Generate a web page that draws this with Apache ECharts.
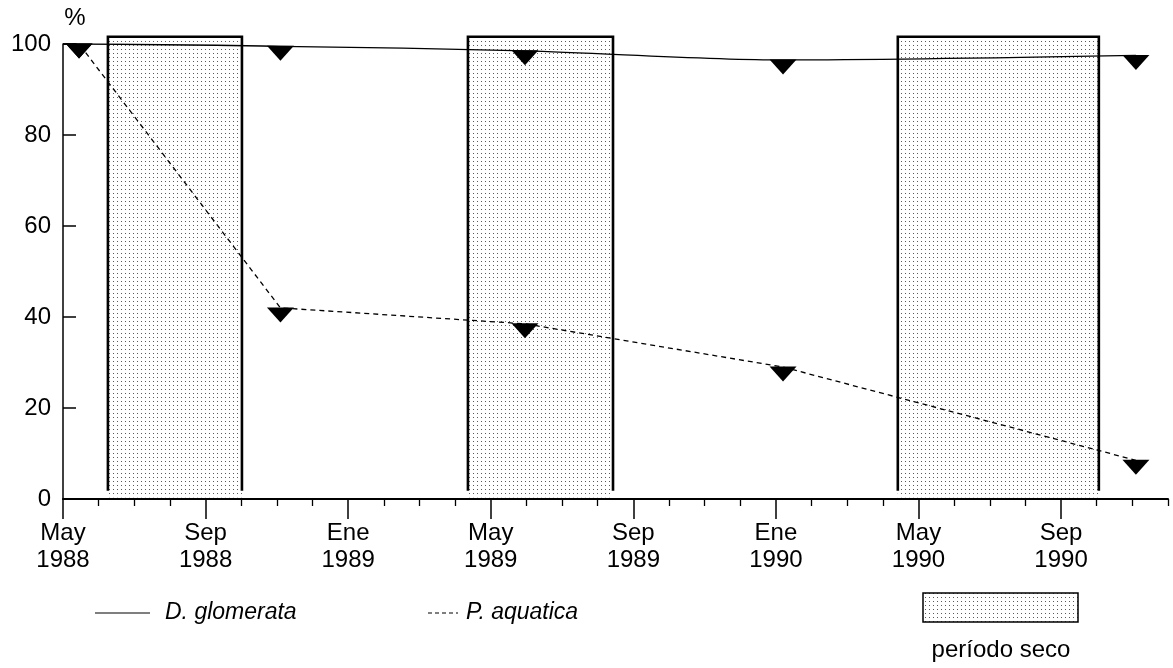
<!DOCTYPE html>
<html>
<head>
<meta charset="utf-8">
<script src="https://cdn.jsdelivr.net/npm/echarts@6/dist/echarts.min.js"></script>
<style>
  html, body { margin: 0; padding: 0; background: #fff; }
  #chart { width: 1173px; height: 668px; }
</style>
</head>
<body>
<div id="chart"></div>
<script>
// Months counted from May 1988 (0 = May 1988, 4 = Sep 1988, ...)
const tickMonths = [0, 4, 8, 12, 16, 20, 24, 28];
const tickLabels = ['May\n1988', 'Sep\n1988', 'Ene\n1989', 'May\n1989', 'Sep\n1989', 'Ene\n1990', 'May\n1990', 'Sep\n1990'];
const monthTicks = [1, 2, 3, 5, 6, 7, 9, 10, 11, 13, 14, 15, 17, 18, 19, 21, 22, 23, 25, 26, 27, 29, 30, 31];

// Sampling dates and survival (%)
const sampleMonths = [0.45, 6.1, 12.96, 20.2, 30.1];
const glomerata = [100, 99.5, 98.5, 96.5, 97.5];
const aquatica = [100, 42, 38.5, 29, 8.5];
const startMonth = 0;
const startValue = 100;

// Dry periods, [start month, end month]
const dryPeriods = [[1.26, 5.02], [11.36, 15.43], [23.42, 29.06]];

const FONT = 'Liberation Sans, Arial, Helvetica, sans-serif';
const DRY_TOP = 101.6;

// stippled fill for the dry periods
function stipple() {
  const c = document.createElement('canvas');
  c.width = 4; c.height = 4;
  const g = c.getContext('2d');
  g.fillStyle = '#ffffff';
  g.fillRect(0, 0, 4, 4);
  g.fillStyle = '#5a5a5a';
  g.fillRect(1, 1, 1, 1);
  return c;
}
const dotFill = { image: stipple(), repeat: 'repeat' };

function seriesData(values) {
  const pts = [{ value: [startMonth, startValue], symbol: 'none' }];
  sampleMonths.forEach((m, i) => pts.push([m, values[i]]));
  return pts;
}

// downward triangle hanging from the data point
const marker = 'path://M0,0L10,0L5,5.5Z';

const chart = echarts.init(document.getElementById('chart'), null, { renderer: 'canvas' });

chart.setOption({
  animation: false,
  backgroundColor: '#ffffff',
  grid: { left: 63, right: 5, top: 44, bottom: 169, containLabel: false },
  xAxis: [
    {
      type: 'value', min: 0, max: 31,
      axisLine: { show: true, onZero: false, lineStyle: { color: '#000', width: 2 } },
      axisTick: { show: true, customValues: tickMonths, length: 20, lineStyle: { color: '#000', width: 1.5 } },
      axisLabel: {
        show: true, customValues: tickMonths,
        formatter: v => tickLabels[tickMonths.indexOf(Math.round(v))] || '',
        fontFamily: FONT, fontSize: 24, lineHeight: 27, color: '#000', margin: 21
      },
      splitLine: { show: false }
    },
    {
      type: 'value', min: 0, max: 31, position: 'bottom', offset: 5,
      axisLine: { show: false },
      axisTick: { show: true, customValues: monthTicks, length: 7, lineStyle: { color: '#000', width: 1.3 } },
      axisLabel: { show: false },
      splitLine: { show: false }
    }
  ],
  yAxis: {
    type: 'value', min: 0, max: 100, interval: 20,
    name: '%', nameLocation: 'end', nameGap: 14,
    nameTextStyle: { fontFamily: FONT, fontSize: 24, color: '#000', padding: [0, 0, 0, 24] },
    axisLine: { show: true, lineStyle: { color: '#000', width: 1.5 } },
    axisTick: { show: true, inside: true, length: 13, lineStyle: { color: '#000', width: 1.5 } },
    axisLabel: { fontFamily: FONT, fontSize: 24, color: '#000', margin: 12 },
    splitLine: { show: false }
  },
  series: [
    {
      name: 'período seco',
      type: 'custom',
      z: 1,
      data: dryPeriods,
      renderItem: function (params, api) {
        const a = api.coord([api.value(0), 0.4]);
        const b = api.coord([api.value(1), DRY_TOP]);
        const eL = api.coord([api.value(0), 1.8]);
        const eR = api.coord([api.value(1), 1.8]);
        return {
          type: 'group',
          children: [
            { type: 'rect', shape: { x: a[0], y: b[1], width: b[0] - a[0], height: a[1] - b[1] },
              style: { fill: dotFill } },
            { type: 'polyline', shape: { points: [[eL[0], eL[1]], [eL[0], b[1]], [b[0], b[1]], [eR[0], eR[1]]] },
              style: { stroke: '#000', lineWidth: 2.6, fill: null } }
          ]
        };
      }
    },
    {
      name: 'D. glomerata',
      type: 'line',
      z: 3,
      smooth: 0.3,
      data: seriesData(glomerata),
      symbol: marker, symbolSize: [27, 15], symbolKeepAspect: false, symbolOffset: [0, 7],
      itemStyle: { color: '#000' },
      lineStyle: { color: '#000', width: 1.3 }
    },
    {
      name: 'P. aquatica',
      type: 'line',
      z: 3,
      smooth: false,
      data: seriesData(aquatica),
      symbol: marker, symbolSize: [27, 15], symbolKeepAspect: false, symbolOffset: [0, 7],
      itemStyle: { color: '#000' },
      lineStyle: { color: '#000', width: 1.3, type: [5, 4] }
    }
  ],
  graphic: [
    { type: 'line', shape: { x1: 95, y1: 613, x2: 150, y2: 613 }, style: { stroke: '#000', lineWidth: 1.2 } },
    { type: 'text', x: 165, y: 613, style: { text: 'D. glomerata', font: 'italic 23px ' + FONT, fill: '#000', verticalAlign: 'middle' } },
    { type: 'line', shape: { x1: 428, y1: 613, x2: 458, y2: 613 }, style: { stroke: '#000', lineWidth: 1.2, lineDash: [4, 3] } },
    { type: 'text', x: 466, y: 613, style: { text: 'P. aquatica', font: 'italic 23px ' + FONT, fill: '#000', verticalAlign: 'middle' } },
    { type: 'rect', shape: { x: 923, y: 593, width: 155, height: 29 }, style: { fill: dotFill, stroke: '#000', lineWidth: 1.5 } },
    { type: 'text', x: 1001, y: 650, style: { text: 'período seco', font: '24px ' + FONT, fill: '#000', align: 'center', verticalAlign: 'middle' } }
  ]
});
</script>
</body>
</html>
